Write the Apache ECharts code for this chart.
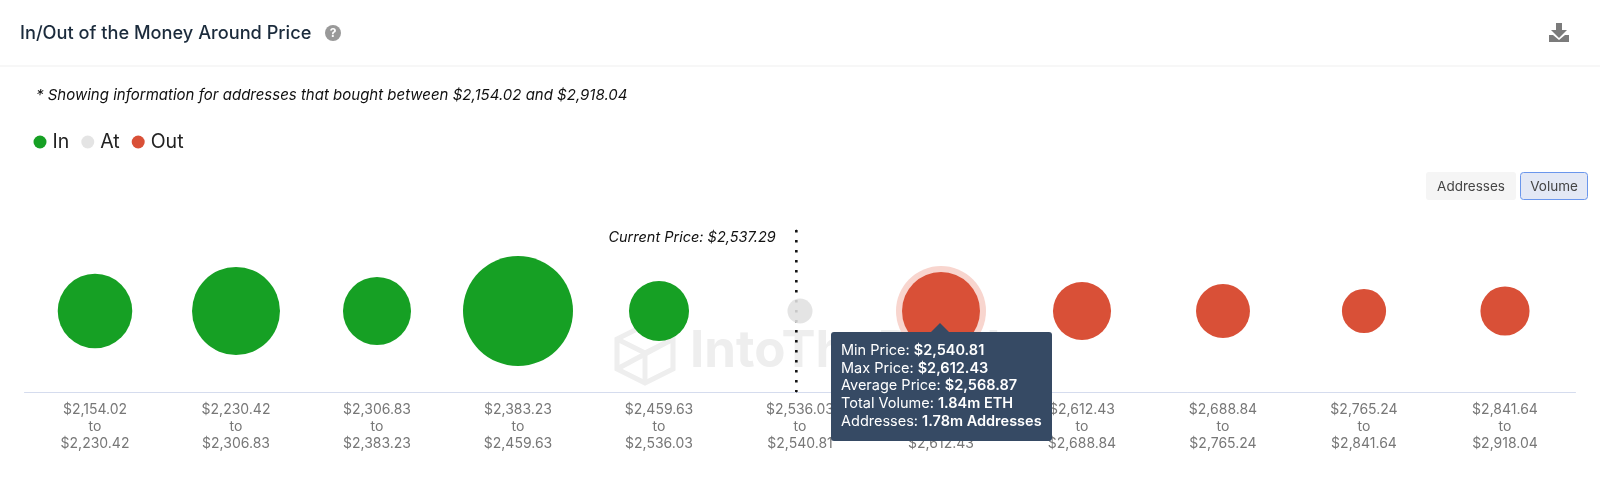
<!DOCTYPE html>
<html>
<head>
<meta charset="utf-8">
<title>In/Out of the Money Around Price</title>
<style>
  html, body { margin: 0; padding: 0; background: #fff; }
  #main { width: 1600px; height: 480px; }
  .tipArrow { position: absolute; left: 100px; top: -9px; width: 0; height: 0;
    border-left: 9px solid transparent; border-right: 9px solid transparent; border-bottom: 9px solid #364a64; }
  .tipRow { white-space: nowrap; line-height: 17.7px; }
  .tipRow b { font-weight: 600; }
</style>
<script src="https://cdn.jsdelivr.net/npm/echarts@6/dist/echarts.min.js"></script>
</head>
<body>
<div id="main"></div>
<script>
const rangeFrom = ['$2,154.02', '$2,230.42', '$2,306.83', '$2,383.23', '$2,459.63', '$2,536.03', '$2,540.81', '$2,612.43', '$2,688.84', '$2,765.24', '$2,841.64']
const rangeTo = ['$2,230.42', '$2,306.83', '$2,383.23', '$2,459.63', '$2,536.03', '$2,540.81', '$2,612.43', '$2,688.84', '$2,765.24', '$2,841.64', '$2,918.04']
// millions of ETH (only 1.84 is printed)
const volumes = [1.68, 2.34, 1.40, 3.66, 1.09, 0.19, 1.84, 1.02, 0.88, 0.59, 0.73]
const zones = ['In', 'In', 'In', 'In', 'In', 'At', 'Out', 'Out', 'Out', 'Out', 'Out']
const zoneNames = ['In', 'At', 'Out']
const currentPriceBand = 5.474
const tipLabels = ['Min Price', 'Max Price', 'Average Price', 'Total Volume', 'Addresses']
const tipValues = ['$2,540.81', '$2,612.43', '$2,568.87', '1.84m ETH', '1.78m Addresses']
const hoveredBand = 6

const FONT = 'Inter, "Noto Sans", sans-serif'
const zoneColors = { In: '#16a024', At: 'rgba(224,224,224,0.88)', Out: '#d95037' }
const bubbleSize = val => 57.5 * Math.sqrt(val[2])

const chart = echarts.init(document.getElementById('main'))

const zoneSeries = zoneNames.map(name => ({
  name: name,
  type: 'scatter',
  xAxisIndex: 0,
  yAxisIndex: 0,
  z: 4,
  symbolSize: bubbleSize,
  itemStyle: { color: zoneColors[name], opacity: 1 },
  emphasis: { disabled: true },
  data: volumes
    .map((v, i) => [i, 0, v])
    .filter(d => zones[d[0]] === name)
}))

const text = (x, y, str, style) => ({
  type: 'text',
  silent: true,
  x: x,
  y: y,
  style: Object.assign({ text: str, font: '400 14px ' + FONT, fill: '#333', verticalAlign: 'middle' }, style)
})

const option = {
  animation: false,
  backgroundColor: '#fff',
  textStyle: { fontFamily: FONT },
  grid: { left: 24.5, width: 1551, top: 230, height: 162 },
  xAxis: [
    {
      type: 'category',
      data: rangeFrom.map((f, i) => f + '\nto\n' + rangeTo[i]),
      axisLine: { onZero: false, lineStyle: { color: '#d5dcee', width: 1 } },
      axisTick: { show: false },
      axisLabel: { color: '#777', fontSize: 14, lineHeight: 17.2, margin: 9, fontFamily: FONT, interval: 0 }
    },
    { type: 'value', min: 0, max: 11, show: false }
  ],
  yAxis: { type: 'value', min: -1, max: 1, show: false },
  legend: {
    left: 33.5,
    top: 132,
    padding: 0,
    itemGap: 12,
    itemWidth: 13,
    itemHeight: 13,
    itemStyle: { borderWidth: 0 },
    data: zoneNames.map(name => ({ name: name, icon: 'circle' })),
    textStyle: { fontSize: 19.5, color: '#222', fontFamily: FONT, padding: [0, 0, 0, 1] }
  },
  tooltip: {
    trigger: 'item',
    alwaysShowContent: true,
    showContent: true,
    transitionDuration: 0,
    position: () => [831, 332],
    backgroundColor: '#364a64',
    borderWidth: 0,
    padding: [9, 10, 9, 10],
    extraCssText: 'width:201px;height:91px;border-radius:3px;box-shadow:none;overflow:visible;',
    textStyle: { color: '#fff', fontSize: 14.5, fontFamily: FONT },
    formatter: () => '<div class="tipArrow"></div>' + tipLabels
      .map((l, i) => '<div class="tipRow">' + l + ': <b>' + tipValues[i] + '</b></div>')
      .join('')
  },
  graphic: [
    { type: 'line', silent: true, shape: { x1: 0, y1: 66, x2: 1600, y2: 66 }, style: { stroke: '#efefef', lineWidth: 1 } },
    text(20, 33.5, 'In/Out of the Money Around Price', { font: '500 18.2px ' + FONT, fill: '#1b2b3c' }),
    { type: 'circle', silent: true, shape: { cx: 333, cy: 33, r: 8 }, style: { fill: '#999' } },
    text(333, 33.5, '?', { font: '700 12px ' + FONT, fill: '#fff', align: 'center' }),
    text(36, 95.5, '* Showing information for addresses that bought between $2,154.02 and $2,918.04', { font: 'italic 400 15px ' + FONT, fill: '#111' }),

    { type: 'polygon', silent: true, shape: { points: [[1556, 23], [1562, 23], [1562, 30], [1567, 30], [1559, 38], [1551, 30], [1556, 30]] }, style: { fill: '#7b7b7b' } },
    { type: 'polygon', silent: true, shape: { points: [[1549, 35], [1553, 35], [1559, 40], [1565, 35], [1569, 35], [1569, 42], [1549, 42]] }, style: { fill: '#7b7b7b' } },

    { type: 'rect', silent: true, shape: { x: 1426, y: 172, width: 90, height: 28, r: 3 }, style: { fill: '#f5f5f5' } },
    text(1471, 186.5, 'Addresses', { font: '400 13.5px ' + FONT, fill: '#444', align: 'center' }),
    { type: 'rect', silent: true, shape: { x: 1520.5, y: 172.5, width: 67, height: 27, r: 3 }, style: { fill: '#e3e8f5', stroke: '#6a96ec', lineWidth: 1 } },
    text(1554, 186.5, 'Volume', { font: '400 13.5px ' + FONT, fill: '#444', align: 'center' }),

    // watermark, sits behind the series
    { type: 'polygon', silent: true, z: -1, shape: { points: [[645, 325], [673, 339], [673, 369], [645, 383], [617, 369], [617, 339]] }, style: { fill: 'none', stroke: '#eeeeee', lineWidth: 5 } },
    { type: 'polyline', silent: true, z: -1, shape: { points: [[617, 339], [645, 353], [673, 339]] }, style: { fill: 'none', stroke: '#eeeeee', lineWidth: 5 } },
    { type: 'polyline', silent: true, z: -1, shape: { points: [[645, 353], [645, 383]] }, style: { fill: 'none', stroke: '#eeeeee', lineWidth: 5 } },
    { type: 'polyline', silent: true, z: -1, shape: { points: [[617, 369], [673, 339]] }, style: { fill: 'none', stroke: '#eeeeee', lineWidth: 5 } },
    text(690, 352, 'IntoTheBlock', { font: '700 51px ' + FONT, fill: '#eeeeee' })
  ],
  series: [
    {
      name: 'Current Price',
      type: 'line',
      xAxisIndex: 1,
      yAxisIndex: 0,
      z: 3,
      silent: true,
      symbol: 'circle',
      symbolSize: 1,
      showSymbol: true,
      showAllSymbol: true,
      itemStyle: { color: '#111' },
      lineStyle: { color: '#111', width: 2.6, type: [2.6, 7.4] },
      label: {
        show: true,
        position: 'left',
        distance: 20,
        offset: [0, 8],
        fontFamily: FONT,
        fontSize: 14.5,
        fontStyle: 'italic',
        color: '#111',
        formatter: p => p.dataIndex === 0 ? 'Current Price: $2,537.29' : ''
      },
      data: [[currentPriceBand, 1], [currentPriceBand, -1]]
    },
    {
      name: 'Hover ring',
      type: 'scatter',
      xAxisIndex: 0,
      yAxisIndex: 0,
      z: 3,
      silent: true,
      symbolSize: val => bubbleSize(val) + 12,
      itemStyle: { color: '#f8d5ce', opacity: 1 },
      data: [[hoveredBand, 0, volumes[hoveredBand]]]
    }
  ].concat(zoneSeries)
}

chart.setOption(option)
chart.dispatchAction({
  type: 'showTip',
  seriesIndex: 4,
  dataIndex: 0
})
</script>
</body>
</html>
